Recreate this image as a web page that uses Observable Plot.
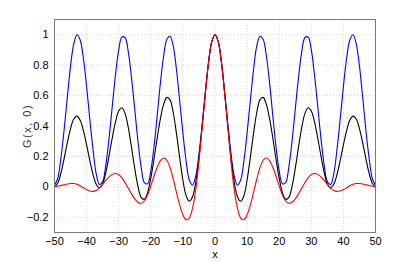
<!DOCTYPE html>
<html><head><meta charset="utf-8">
<script src="https://cdn.jsdelivr.net/npm/d3@7"></script>
<script src="https://cdn.jsdelivr.net/npm/@observablehq/plot@0.6"></script>
<style>body{margin:0;background:#fff}</style>
</head><body><div id="chart"></div>
<script>
const xs = d3.range(-50, 51);
const blue = [0.01,0.055,0.19,0.375,0.59,0.795,0.94,1.0,0.965,0.845,0.66,0.445,0.245,0.085,0.015,0.035,0.145,0.32,0.53,0.735,0.9,0.985,0.98,0.885,0.715,0.51,0.30,0.13,0.028,0.02,0.105,0.265,0.47,0.685,0.86,0.97,0.99,0.925,0.77,0.565,0.355,0.17,0.045,0.012,0.07,0.215,0.41,0.625,0.82,0.955,
  1.0,
  0.955,0.82,0.625,0.41,0.215,0.07,0.012,0.045,0.17,0.355,0.565,0.77,0.925,0.99,0.97,0.86,0.685,0.47,0.265,0.105,0.02,0.028,0.13,0.30,0.51,0.715,0.885,0.98,0.985,0.9,0.735,0.53,0.32,0.145,0.035,0.015,0.085,0.245,0.445,0.66,0.845,0.965,1.0,0.94,0.795,0.59,0.375,0.19,0.055,0.01];
const black = [0.0,0.024,0.09,0.186,0.29,0.383,0.446,0.465,0.438,0.37,0.276,0.173,0.081,0.017,-0.006,0.021,0.096,0.204,0.322,0.427,0.498,0.52,0.481,0.388,0.259,0.121,0.003,-0.069,-0.082,-0.038,0.057,0.183,0.322,0.449,0.542,0.588,0.572,0.487,0.35,0.192,0.045,-0.058,-0.095,-0.065,0.03,0.19,0.40,0.62,0.82,0.955,
  1.0,
  0.955,0.82,0.62,0.40,0.19,0.03,-0.065,-0.095,-0.058,0.045,0.192,0.35,0.487,0.572,0.588,0.542,0.449,0.322,0.183,0.057,-0.038,-0.082,-0.069,0.003,0.121,0.259,0.388,0.481,0.52,0.498,0.427,0.322,0.204,0.096,0.021,-0.006,0.017,0.081,0.173,0.276,0.37,0.438,0.465,0.446,0.383,0.29,0.186,0.09,0.024,0.0];
const red = [0.0,0.004,0.009,0.014,0.019,0.022,0.022,0.017,0.007,-0.006,-0.018,-0.027,-0.03,-0.024,-0.008,0.016,0.042,0.066,0.082,0.088,0.081,0.059,0.027,-0.01,-0.047,-0.079,-0.101,-0.108,-0.093,-0.053,0.005,0.071,0.13,0.173,0.19,0.175,0.126,0.05,-0.037,-0.12,-0.184,-0.216,-0.205,-0.14,-0.02,0.165,0.39,0.615,0.82,0.955,
  1.0,
  0.955,0.82,0.615,0.39,0.165,-0.02,-0.14,-0.205,-0.216,-0.184,-0.12,-0.037,0.05,0.126,0.175,0.19,0.173,0.13,0.071,0.005,-0.053,-0.093,-0.108,-0.101,-0.079,-0.047,-0.01,0.027,0.059,0.081,0.088,0.082,0.066,0.042,0.016,-0.008,-0.024,-0.03,-0.027,-0.018,-0.006,0.007,0.017,0.022,0.022,0.019,0.014,0.009,0.004,0.0];
const xTicks = [-50,-40,-30,-20,-10,0,10,20,30,40,50];
const yTicks = [-0.2,0,0.2,0.4,0.6,0.8,1];
const seriesNames = ["blue","black","red"];
const seriesColors = ["#3355ff","#000000","#ff1a1a"];
const seriesValues = [blue, black, red];

const rows = seriesNames.flatMap((n, k) => seriesValues[k].map((v, i) => ({x: xs[i], y: v, s: n})));
const fmt = d3.format("~g");

const chart = Plot.plot({
  width: 415, height: 262,
  marginLeft: 54, marginRight: 40, marginTop: 19, marginBottom: 30,
  style: {fontFamily: "'Liberation Sans', Arial, sans-serif", fontSize: "11px", color: "#000", background: "#fff"},
  x: {domain: [-50, 50], ticks: xTicks, tickFormat: fmt, tickSize: 0, tickPadding: 5, label: "x", labelAnchor: "center", labelArrow: "none", labelOffset: 25},
  y: {domain: [-0.3, 1.1], ticks: yTicks, tickFormat: fmt, tickSize: 0, tickPadding: 6, label: "G(x, 0)", labelAnchor: "center", labelArrow: "none", labelOffset: 31},
  color: {domain: seriesNames, range: seriesColors},
  marks: [
    Plot.gridX(xTicks, {stroke: "#d6d6d6", strokeOpacity: 1, strokeDasharray: "1,2"}),
    Plot.gridY(yTicks, {stroke: "#d6d6d6", strokeOpacity: 1, strokeDasharray: "1,2"}),
    Plot.line(rows, {x: "x", y: "y", z: "s", stroke: "s", strokeWidth: 1.1, curve: "catmull-rom"}),
    Plot.frame({stroke: "#7a7a7a"})
  ]
});
document.getElementById("chart").append(chart);
d3.select(chart).selectAll('g[aria-label="y-axis label"] text').style("letter-spacing", "1.5px").attr("fill", "#333");
</script>
</body></html>
